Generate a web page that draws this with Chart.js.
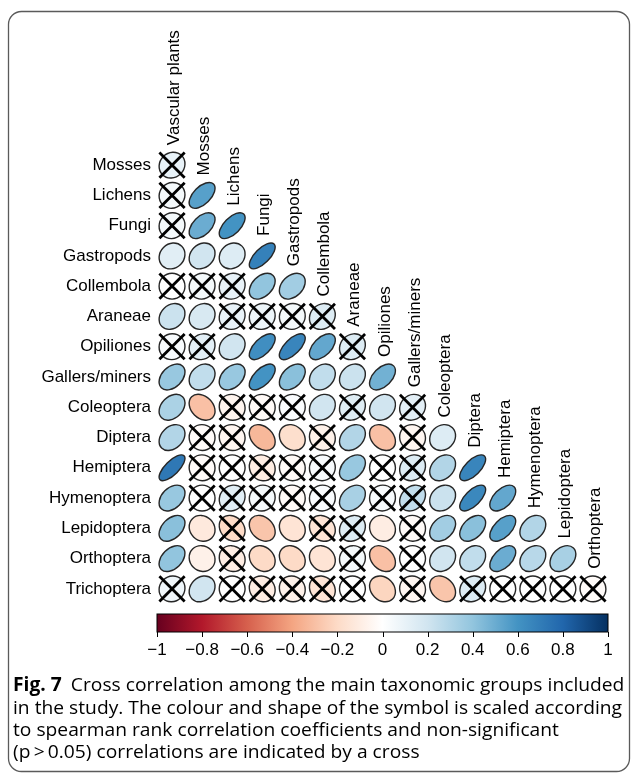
<!DOCTYPE html>
<html>
<head>
<meta charset="utf-8">
<script src="https://cdn.jsdelivr.net/npm/chart.js@4.4.1/dist/chart.umd.min.js"></script>
<style>
  html, body { margin: 0; padding: 0; background: #fff; }
  #wrap { width: 632px; height: 777px; }
</style>
</head>
<body>
<div id="wrap"><canvas id="corr" width="632" height="777"></canvas></div>
<script>
// taxa on the rows (lower triangle) and on the diagonal column labels
const rowNames = ['Mosses', 'Lichens', 'Fungi', 'Gastropods', 'Collembola', 'Araneae', 'Opiliones',
    'Gallers/miners', 'Coleoptera', 'Diptera', 'Hemiptera', 'Hymenoptera', 'Lepidoptera', 'Orthoptera', 'Trichoptera'];
const colNames = ['Vascular plants', 'Mosses', 'Lichens', 'Fungi', 'Gastropods', 'Collembola', 'Araneae',
    'Opiliones', 'Gallers/miners', 'Coleoptera', 'Diptera', 'Hemiptera', 'Hymenoptera', 'Lepidoptera', 'Orthoptera'];

// spearman rho, one row per taxon
const rho = [
    [0.10],
    [0.05, 0.55],
    [0.05, 0.50, 0.60],
    [0.13, 0.20, 0.15, 0.68],
    [0.00, 0.05, 0.10, 0.40, 0.35],
    [0.22, 0.17, 0.10, 0.08, 0.05, 0.15],
    [0.03, 0.12, 0.20, 0.62, 0.66, 0.52, 0.15],
    [0.38, 0.25, 0.38, 0.60, 0.42, 0.25, 0.22, 0.48],
    [0.32, -0.30, -0.06, -0.03, 0.02, 0.20, 0.14, 0.20, 0.12],
    [0.30, -0.02, -0.05, -0.33, -0.18, -0.08, 0.30, -0.30, -0.05, 0.15],
    [0.72, -0.02, 0.00, -0.10, -0.03, 0.03, 0.38, 0.00, 0.15, 0.30, 0.66],
    [0.38, 0.00, 0.13, 0.05, -0.03, 0.02, 0.33, 0.03, 0.25, 0.22, 0.65, 0.52],
    [0.42, -0.12, -0.20, -0.28, -0.15, -0.15, 0.15, -0.10, -0.03, 0.35, 0.42, 0.55, 0.30],
    [0.40, -0.08, -0.10, -0.20, -0.20, -0.15, 0.05, -0.30, 0.00, 0.20, 0.25, 0.50, 0.28, 0.33],
    [0.07, 0.20, 0.00, -0.10, -0.08, -0.15, 0.00, -0.22, -0.05, -0.28, 0.15, 0.00, 0.00, 0.00, -0.02]
];

// 1 = non-significant (p > 0.05), drawn with a cross
const notSig = [
    [1],
    [1, 0],
    [1, 0, 0],
    [0, 0, 0, 0],
    [1, 1, 1, 0, 0],
    [0, 0, 1, 1, 1, 1],
    [1, 1, 0, 0, 0, 0, 1],
    [0, 0, 0, 0, 0, 0, 0, 0],
    [0, 0, 1, 1, 1, 0, 1, 0, 1],
    [0, 1, 1, 0, 0, 1, 0, 0, 1, 0],
    [0, 1, 1, 1, 1, 1, 0, 1, 1, 0, 0],
    [0, 1, 1, 1, 1, 1, 0, 1, 1, 0, 0, 0],
    [0, 0, 1, 0, 0, 1, 1, 0, 1, 0, 0, 0, 0],
    [0, 0, 1, 0, 0, 0, 1, 0, 1, 0, 0, 0, 0, 0],
    [1, 0, 1, 1, 1, 1, 1, 0, 1, 0, 1, 1, 1, 1, 1]
];

const barTicks = [-1, -0.8, -0.6, -0.4, -0.2, 0, 0.2, 0.4, 0.6, 0.8, 1];
const barTickLabels = ['\u22121', '\u22120.8', '\u22120.6', '\u22120.4', '\u22120.2', '0', '0.2', '0.4', '0.6', '0.8', '1'];
const rdbu = ['#67001F', '#B2182B', '#D6604D', '#F4A582', '#FDDBC7', '#FFFFFF',
    '#D1E5F0', '#92C5DE', '#4393C3', '#2166AC', '#053061'];

const captionBold = 'Fig. 7';
const captionLines = [
    'Cross correlation among the main taxonomic groups included',
    'in the study. The colour and shape of the symbol is scaled according',
    'to spearman rank correlation coefficients and non-significant',
    '(p\u2009>\u20090.05) correlations are indicated by a cross'
];

const LABEL_FONT = '"Liberation Sans", Arial, sans-serif';
const CAPTION_FONT = '"Open Sans", "Noto Sans", sans-serif';

function hexToRgb(h) {
    const n = parseInt(h.slice(1), 16);
    return [(n >> 16) & 255, (n >> 8) & 255, n & 255];
}

function corrColor(v) {
    const t = (v + 1) / 2 * (rdbu.length - 1);
    const i = Math.min(Math.floor(t), rdbu.length - 2);
    const f = t - i;
    const a = hexToRgb(rdbu[i]);
    const b = hexToRgb(rdbu[i + 1]);
    const c = a.map((x, k) => Math.round(x + (b[k] - x) * f));
    return `rgb(${c[0]}, ${c[1]}, ${c[2]})`;
}

const matrixData = [];
rho.forEach((row, r) => {
    row.forEach((v, c) => {
        matrixData.push({ x: c, y: r, rho: v, ns: notSig[r][c] });
    });
});

const corrPlugin = {
    id: 'corrGlyphs',
    beforeDraw(chart) {
        const ctx = chart.ctx;
        ctx.save();
        ctx.fillStyle = '#fff';
        ctx.fillRect(0, 0, chart.width, chart.height);
        // rounded figure frame
        ctx.strokeStyle = '#5a5a5a';
        ctx.lineWidth = 1.3;
        ctx.beginPath();
        ctx.roundRect(8.5, 11.5, 621, 760, 13);
        ctx.stroke();
        ctx.restore();
    },
    afterDatasetsDraw(chart) {
        const ctx = chart.ctx;
        const xs = chart.scales.x;
        const ys = chart.scales.y;
        const cb = chart.scales.cb;
        const cell = Math.abs(xs.getPixelForValue(1) - xs.getPixelForValue(0));
        const meta = chart.getDatasetMeta(0);

        ctx.save();
        // ellipses
        meta.data.forEach((pt, i) => {
            const d = matrixData[i];
            const a = Math.acos(Math.max(-1, Math.min(1, d.rho)));
            const s = 0.86 * cell / Math.SQRT2;
            ctx.beginPath();
            ctx.ellipse(pt.x, pt.y, Math.max(s * Math.cos(a / 2), 0.5), Math.max(s * Math.sin(a / 2), 0.5),
                -Math.PI / 4, 0, Math.PI * 2);
            ctx.fillStyle = corrColor(d.rho);
            ctx.fill();
            ctx.lineWidth = 1.4;
            ctx.strokeStyle = '#262626';
            ctx.stroke();
            if (d.ns) {
                const h = 0.42 * cell;
                ctx.beginPath();
                ctx.moveTo(pt.x - h, pt.y - h);
                ctx.lineTo(pt.x + h, pt.y + h);
                ctx.moveTo(pt.x + h, pt.y - h);
                ctx.lineTo(pt.x - h, pt.y + h);
                ctx.lineWidth = 2.8;
                ctx.strokeStyle = '#000';
                ctx.stroke();
            }
        });

        // diagonal column labels
        ctx.fillStyle = '#000';
        ctx.font = '17px ' + LABEL_FONT;
        ctx.textAlign = 'left';
        ctx.textBaseline = 'alphabetic';
        colNames.forEach((name, c) => {
            const x = xs.getPixelForValue(c);
            const y = ys.getPixelForValue(c) - 20;
            ctx.save();
            ctx.translate(x + 7, y);
            ctx.rotate(-Math.PI / 2);
            ctx.fillText(name, 0, 0);
            ctx.restore();
        });

        // colour bar
        const x0 = cb.getPixelForValue(-1);
        const x1 = cb.getPixelForValue(1);
        const top = chart.chartArea.bottom + 10;
        const bh = 18;
        const grad = ctx.createLinearGradient(x0, 0, x1, 0);
        rdbu.forEach((col, i) => grad.addColorStop(i / (rdbu.length - 1), col));
        ctx.fillStyle = grad;
        ctx.fillRect(x0, top, x1 - x0, bh);
        ctx.strokeStyle = '#000';
        ctx.lineWidth = 1;
        ctx.strokeRect(x0, top, x1 - x0, bh);
        ctx.beginPath();
        barTicks.forEach(v => {
            const x = Math.round(cb.getPixelForValue(v)) + 0.5;
            ctx.moveTo(x, top + bh);
            ctx.lineTo(x, top + bh + 5);
        });
        ctx.stroke();
        ctx.fillStyle = '#000';
        ctx.font = '17px ' + LABEL_FONT;
        ctx.textAlign = 'center';
        ctx.textBaseline = 'middle';
        barTicks.forEach((v, i) => {
            ctx.fillText(barTickLabels[i], cb.getPixelForValue(v), top + bh + 18);
        });

        // caption
        ctx.textAlign = 'left';
        ctx.textBaseline = 'alphabetic';
        ctx.font = '19px ' + CAPTION_FONT;
        const sx = 609 / ctx.measureText(captionLines[1]).width;
        const baselines = [691, 713.5, 736, 758];
        captionLines.forEach((line, i) => {
            ctx.save();
            ctx.translate(13, baselines[i]);
            ctx.scale(sx, 1);
            let off = 0;
            if (i === 0) {
                ctx.font = 'bold 19px ' + CAPTION_FONT;
                ctx.fillText(captionBold, 0, 0);
                off = ctx.measureText(captionBold).width + 9;
                ctx.font = '19px ' + CAPTION_FONT;
            }
            ctx.fillText(line, off, 0);
            ctx.restore();
        });
        ctx.restore();
    }
};

new Chart(document.getElementById('corr'), {
    type: 'scatter',
    data: {
        datasets: [{
            data: matrixData,
            pointRadius: 0,
            pointHoverRadius: 0
        }]
    },
    options: {
        responsive: false,
        animation: false,
        events: [],
        layout: { padding: { top: 150, right: 24, bottom: 173, left: 0 } },
        plugins: {
            legend: { display: false },
            tooltip: { enabled: false }
        },
        scales: {
            x: { type: 'linear', min: -0.5, max: 14.5, display: false },
            cb: { type: 'linear', axis: 'x', position: 'bottom', min: -1, max: 1, display: false },
            y: {
                type: 'linear',
                min: -0.5,
                max: 14.5,
                reverse: true,
                afterBuildTicks: s => { s.ticks = rowNames.map((n, i) => ({ value: i })); },
                afterFit: s => { s.width = 157; },
                grid: { display: false, drawTicks: false },
                border: { display: false },
                ticks: {
                    autoSkip: false,
                    padding: 6,
                    color: '#000',
                    font: { family: LABEL_FONT, size: 17 },
                    callback: v => rowNames[v]
                }
            }
        }
    },
    plugins: [corrPlugin]
});
</script>
</body>
</html>
